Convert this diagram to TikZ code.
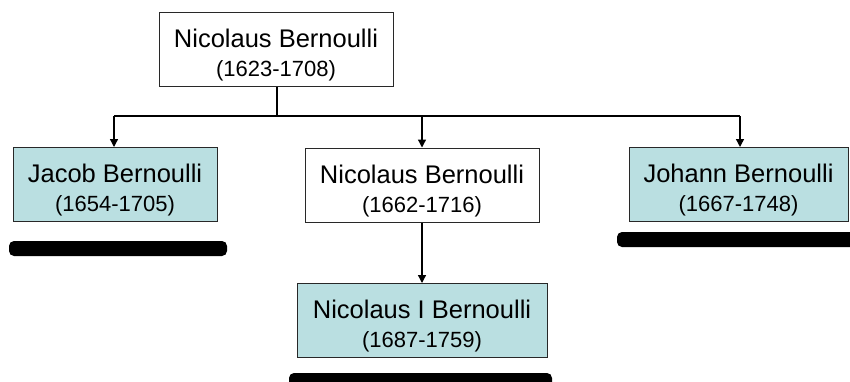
\documentclass[tikz,border=0pt]{standalone}
\usepackage{fontspec}
\setmainfont{Liberation Sans}
\usetikzlibrary{arrows.meta}
\definecolor{boxfill}{RGB}{186,223,225}
\definecolor{boxline}{RGB}{40,40,40}
\tikzset{
  person/.style={draw=boxline, line width=1pt, minimum height=74pt, inner sep=0pt, align=center,
    font=\fontsize{25.5}{29}\selectfont},
  personfilled/.style={person, fill=boxfill},
  conn/.style={line width=1.3pt, draw=black},
  arr/.style={conn, -{Triangle[width=8pt,length=8pt]}},
  bar/.style={fill=black, rounded corners=5pt}
}
\newcommand{\yrs}[1]{{\fontsize{22}{29}\selectfont #1}}
\newcommand{\pstrut}{\rule{0pt}{30pt}}
\begin{document}
\begin{tikzpicture}[x=1pt,y=-1pt]
\useasboundingbox (0,0) rectangle (850,381);
\clip (0,0) rectangle (850,381);
\fill[white] (0,0) rectangle (850,381);

\node[person, minimum width=234pt] (top) at (276,49.5) {\pstrut Nicolaus Bernoulli\\\yrs{(1623-1708)}};
\node[personfilled, minimum width=204pt] (jacob) at (115,184.5) {\pstrut Jacob Bernoulli\\\yrs{(1654-1705)}};
\node[person, minimum width=234pt] (mid) at (422,185) {\pstrut Nicolaus Bernoulli\\\yrs{(1662-1716)}};
\node[personfilled, minimum width=219pt] (johann) at (738.5,184.5) {\pstrut Johann Bernoulli\\\yrs{(1667-1748)}};
\node[personfilled, minimum width=250pt] (nic) at (422,320.5) {\pstrut Nicolaus I Bernoulli\\\yrs{(1687-1759)}};

\coordinate (bus) at (277,116);
\coordinate (busl) at (114,116);
\coordinate (busr) at (740,116);
\draw[conn] (top.south -| bus) -- (bus);
\draw[conn] (busl) -- (busr);
\draw[arr] (busl) -- (busl |- jacob.north);
\draw[arr] (bus -| mid.north) -- (mid.north);
\draw[arr] (busr) -- (busr |- johann.north);
\draw[arr] (mid.south) -- (nic.north);

\fill[bar] (9,241) rectangle (227,256);
\fill[bar] (617,232) rectangle (860,247);
\fill[bar] (289,373) rectangle (552,390);
\end{tikzpicture}
\end{document}
